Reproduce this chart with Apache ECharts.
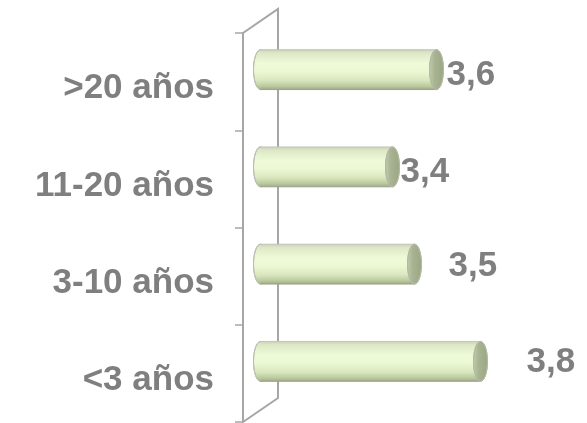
<!DOCTYPE html>
<html>
<head>
<meta charset="utf-8">
<style>
  html, body { margin: 0; padding: 0; background: #ffffff; }
  #chart { width: 587px; height: 423px; }
</style>
<script src="https://cdn.jsdelivr.net/npm/echarts@6/dist/echarts.min.js"></script>
</head>
<body>
<div id="chart"></div>
<script>
// Antigüedad (años) y valoración media
const categories = ['>20 años', '11-20 años', '3-10 años', '<3 años'];
const values = [3.6, 3.4, 3.5, 3.8];

// value axis range (hidden)
const X_MIN = 2.8;
const X_MAX = 4.0;

// plot area
const GRID_LEFT = 243;
const GRID_TOP = 33;
const GRID_BOTTOM = 1;

// 3D depth of the back wall, in pixels
const DEPTH_X = 35;
const DEPTH_Y = -24;

// per-label nudges of the value labels (gap after the bar end, vertical shift)
const labelGap = [3, 1, 27, 39];
const labelShift = [6, 5, 2, 1];

const GREY = '#7f7f7f';
const WALL = '#a6a6a6';
const FONT = '"Liberation Sans", Arial, sans-serif';

const chart = echarts.init(document.getElementById('chart'), null, { renderer: 'canvas' });

function bodyGradient() {
  return new echarts.graphic.LinearGradient(0, 0, 0, 1, [
    { offset: 0, color: '#c9d1b8' },
    { offset: 0.08, color: '#dde7c6' },
    { offset: 0.35, color: '#eefbd8' },
    { offset: 0.55, color: '#ecf8d4' },
    { offset: 0.78, color: '#d8e5bc' },
    { offset: 0.92, color: '#bac89e' },
    { offset: 1, color: '#9eab86' }
  ]);
}

function capGradient() {
  return new echarts.graphic.LinearGradient(0, 0, 1, 0, [
    { offset: 0, color: '#c4cdb0' },
    { offset: 0.35, color: '#a9b592' },
    { offset: 1, color: '#9aa682' }
  ]);
}

function renderBar(params, api) {
  const cat = api.value(1);
  const val = api.value(0);
  const p0 = api.coord([X_MIN, cat]);
  const p1 = api.coord([val, cat]);
  const band = api.size([0, 1])[1];
  const h = band * 0.41;
  const rx = 7;
  const cy = p0[1] + DEPTH_Y / 2;
  const x0 = p0[0] + DEPTH_X / 2;
  const x1 = p1[0] + DEPTH_X / 2;
  const top = cy - h / 2;
  const bot = cy + h / 2;
  const i = params.dataIndex;
  return {
    type: 'group',
    children: [
      {
        type: 'ellipse',
        shape: { cx: x0, cy: cy, rx: rx, ry: h / 2 },
        style: { fill: bodyGradient(), stroke: '#b9bfae', lineWidth: 1 }
      },
      {
        type: 'rect',
        shape: { x: x0, y: top, width: x1 - x0, height: h },
        style: { fill: bodyGradient() }
      },
      {
        type: 'line',
        shape: { x1: x0, y1: top, x2: x1, y2: top },
        style: { stroke: '#c2c6ba', lineWidth: 1 }
      },
      {
        type: 'line',
        shape: { x1: x0, y1: bot, x2: x1, y2: bot },
        style: { stroke: '#9aa38a', lineWidth: 1 }
      },
      {
        type: 'ellipse',
        shape: { cx: x1, cy: cy, rx: rx, ry: h / 2 },
        style: { fill: capGradient(), stroke: '#b3b9a6', lineWidth: 1 }
      },
      {
        type: 'text',
        style: {
          x: x1 + rx + labelGap[i],
          y: cy + labelShift[i],
          text: val.toFixed(1).replace('.', ','),
          fill: GREY,
          font: 'bold 35px ' + FONT,
          textAlign: 'left',
          textVerticalAlign: 'middle'
        }
      }
    ]
  };
}

const option = {
  backgroundColor: '#ffffff',
  animation: false,
  grid: { left: GRID_LEFT, top: GRID_TOP, bottom: GRID_BOTTOM, right: 80, containLabel: false },
  xAxis: {
    type: 'value',
    min: X_MIN,
    max: X_MAX,
    show: false
  },
  yAxis: {
    type: 'category',
    inverse: true,
    data: categories,
    axisLine: { show: true, lineStyle: { color: WALL, width: 2 } },
    axisTick: { show: true, inside: false, length: 8, lineStyle: { color: WALL, width: 1.5 } },
    axisLabel: {
      margin: 29,
      formatter: (v) => '{c|' + v + '}',
      rich: {
        c: {
          color: GREY,
          fontFamily: FONT,
          fontWeight: 'bold',
          fontSize: 35,
          padding: [14, 0, 0, 0]
        }
      }
    },
    splitLine: { show: false }
  },
  series: [
    {
      type: 'custom',
      renderItem: renderBar,
      encode: { x: 0, y: 1 },
      data: values.map((v, i) => [v, i]),
      z: 5
    }
  ]
};

chart.setOption(option);

// back wall of the plot: front edge is the category axis line,
// the back edge is shifted by the depth vector
const wallTop = GRID_TOP;
const wallBottom = chart.getHeight() - GRID_BOTTOM;
chart.setOption({
  graphic: [
    {
      type: 'polyline',
      z: 1,
      shape: {
        points: [
          [GRID_LEFT, wallTop],
          [GRID_LEFT + DEPTH_X, wallTop + DEPTH_Y],
          [GRID_LEFT + DEPTH_X, wallBottom + DEPTH_Y],
          [GRID_LEFT, wallBottom]
        ]
      },
      style: { stroke: WALL, lineWidth: 2, fill: null }
    }
  ]
});
</script>
</body>
</html>
